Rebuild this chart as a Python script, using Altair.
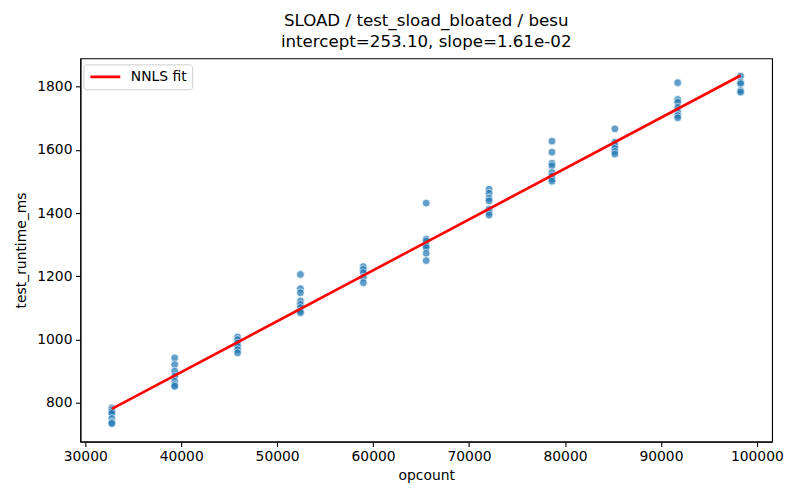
import altair as alt
import pandas as pd

# opcount levels (x)
opcounts = [32768, 39321.6, 45875.2, 52428.8, 58982.4, 65536, 72089.6, 78643.2, 85196.8, 91750.4, 98304]

# runtime readings (ms) per opcount level
runtimes = [
    [784, 778, 772, 766, 750, 738, 734],
    [942, 921, 900, 884, 868, 857, 852],
    [1008, 1000, 989, 979, 968, 958],
    [1206, 1161, 1148, 1122, 1111, 1101, 1090, 1085],
    [1231, 1222, 1212, 1196, 1180],
    [1432, 1318, 1312, 1298, 1291, 1273, 1250],
    [1476, 1463, 1447, 1439, 1413, 1402, 1394],
    [1628, 1593, 1558, 1550, 1529, 1518, 1508, 1501],
    [1667, 1625, 1614, 1605, 1595, 1587],
    [1813, 1760, 1751, 1735, 1720, 1709, 1702],
    [1834, 1815, 1810, 1788, 1783],
]

# NNLS fit line endpoints
fit_x = [32768, 98304]
fit_y = [780.7, 1835.8]
fit_label = ["NNLS fit", "NNLS fit"]

title_lines = ["SLOAD / test_sload_bloated / besu", "intercept=253.10, slope=1.61e-02"]

rows = []
for xv, ys in zip(opcounts, runtimes):
    for yv in ys:
        rows.append({"opcount": xv, "test_runtime_ms": yv})
pts = pd.DataFrame(rows)
fit = pd.DataFrame({"opcount": fit_x, "test_runtime_ms": fit_y, "series": fit_label})

FONT = "DejaVu Sans"
xscale = alt.Scale(domain=[29491, 101581], nice=False, zero=False)
yscale = alt.Scale(domain=[677, 1890], nice=False, zero=False)

xaxis = alt.Axis(title="opcount", values=list(range(30000, 100001, 10000)), format="d",
                 grid=False, labelFlush=False, labelOverlap=False)
yaxis = alt.Axis(title="test_runtime_ms", values=list(range(800, 1801, 200)), format="d",
                 grid=False, labelOverlap=False)

points = alt.Chart(pts).mark_circle(
    size=62, color="#1f77b4", opacity=0.7, stroke="white", strokeWidth=0.8
).encode(
    x=alt.X("opcount:Q", scale=xscale, axis=xaxis),
    y=alt.Y("test_runtime_ms:Q", scale=yscale, axis=yaxis),
)

line = alt.Chart(fit).mark_line(strokeWidth=2.6).encode(
    x=alt.X("opcount:Q", scale=xscale),
    y=alt.Y("test_runtime_ms:Q", scale=yscale),
    color=alt.Color("series:N", scale=alt.Scale(domain=["NNLS fit"], range=["red"]),
                    legend=alt.Legend(title=None, orient="none", legendX=3, legendY=6,
                                      symbolType="stroke", symbolStrokeWidth=2.6, symbolSize=900,
                                      clipHeight=14,
                                      labelFontSize=13.9, labelFont=FONT, labelColor="black",
                                      strokeColor="#d0d0d0", fillColor="white", padding=5.5,
                                      cornerRadius=3, labelOffset=9)),
)

chart = alt.layer(points, line).properties(
    width=693, height=384,
    title=alt.TitleParams(text=title_lines, fontSize=16.7, font=FONT, fontWeight="normal",
                          color="black", anchor="middle", lineHeight=21, offset=8),
    autosize=alt.AutoSizeParams(type="none"),
    padding={"left": 72.5, "top": 50, "right": 20, "bottom": 50},
).configure_view(
    stroke="black", strokeWidth=1.1
).configure_axis(
    labelFont=FONT, titleFont=FONT, labelFontSize=13.9, titleFontSize=13.9,
    labelColor="black", titleColor="black", titleFontWeight="normal",
    tickColor="black", domainColor="black", tickSize=4.9, tickWidth=1.1, domainWidth=1.1,
    labelPadding=3.5,
).configure_axisX(titlePadding=5).configure_axisY(titlePadding=8)

chart.save("out.html", embed_options={"renderer": "svg", "actions": False})
